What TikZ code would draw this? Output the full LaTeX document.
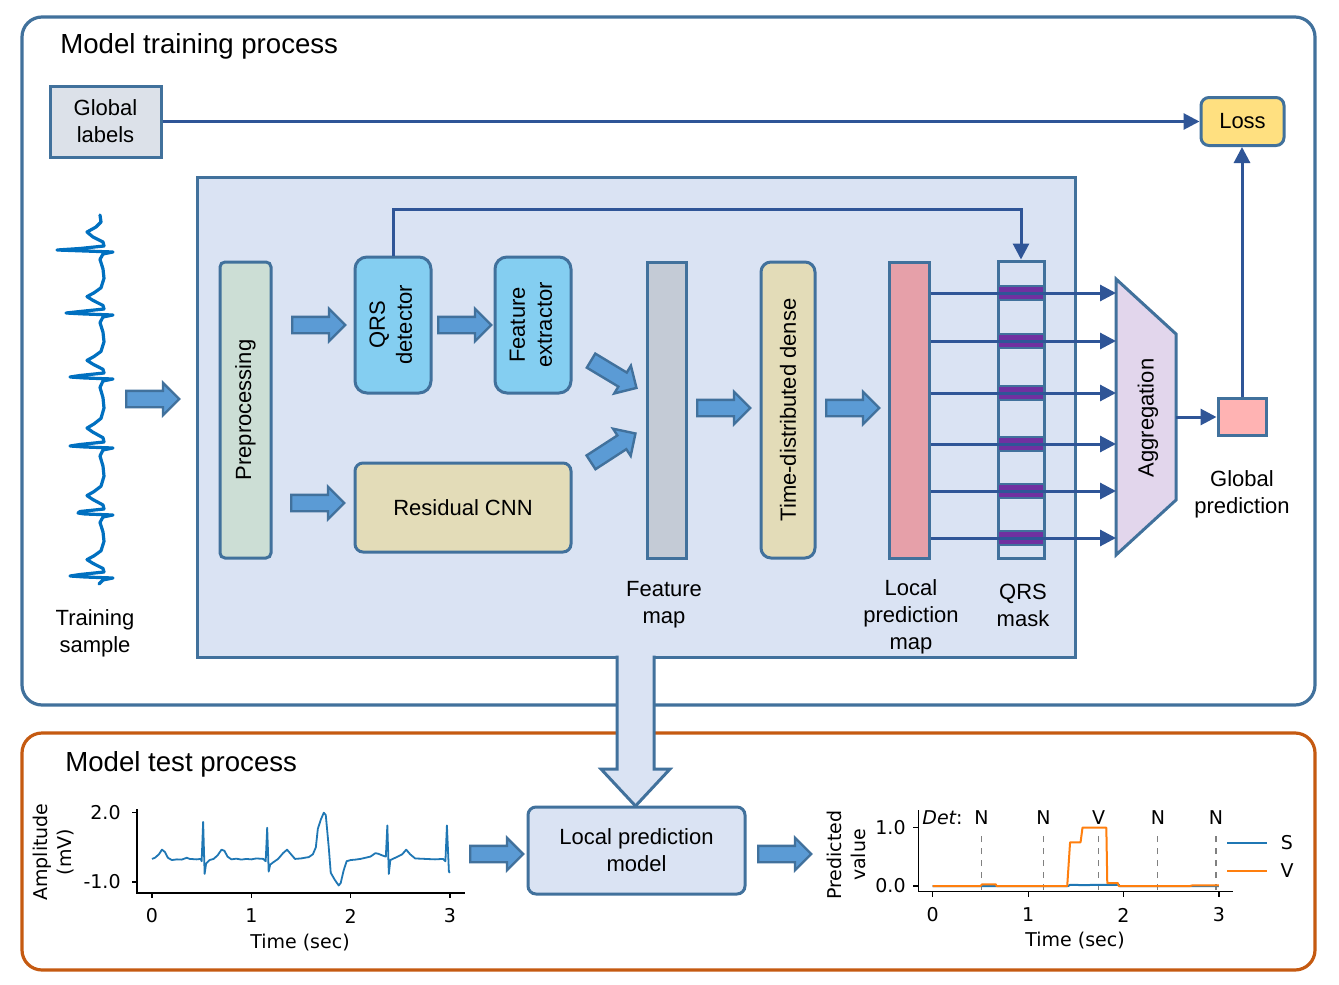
\documentclass[tikz,border=0pt]{standalone}
\usepackage{fontspec}
\setmainfont{Liberation Sans}
\newfontfamily\djv{DejaVu Sans}
\usetikzlibrary{arrows.meta,shapes.arrows,calc}
\definecolor{steel}{HTML}{41719C}
\definecolor{connc}{HTML}{2F5597}
\definecolor{bigfill}{HTML}{DAE3F3}
\definecolor{fatfill}{HTML}{5B9BD5}
\definecolor{orng}{HTML}{C55A11}
\definecolor{glfill}{HTML}{DCE1E9}
\definecolor{prepfill}{HTML}{CCDED5}
\definecolor{qrsfill}{HTML}{84CEF1}
\definecolor{tanfill}{HTML}{E3DCB8}
\definecolor{fmfill}{HTML}{C4CBD6}
\definecolor{pinkfill}{HTML}{E6A0A9}
\definecolor{aggfill}{HTML}{E2D6EC}
\definecolor{gpfill}{HTML}{FFB3B3}
\definecolor{lossfill}{HTML}{FFE080}
\definecolor{purp}{HTML}{7030A0}
\definecolor{ecgblue}{HTML}{0070C0}
\definecolor{mplA}{HTML}{1F77B4}
\definecolor{mplB}{HTML}{FF7F0E}
\begin{document}
\begin{tikzpicture}[x=0.5pt,y=-0.5pt,
  box/.style={draw=steel,line width=1.5pt,inner sep=0pt,font=\fontsize{11}{13.5}\selectfont,align=center},
  plain/.style={draw=steel,line width=1.5pt,inner sep=0pt},
  conn/.style={draw=connc,line width=1.5pt,-{Triangle[length=8pt,width=8pt]}},
  fat/.style={single arrow,draw=steel,fill=fatfill,line width=1.2pt,minimum height=26.5pt,minimum width=15pt,single arrow head extend=4pt,inner xsep=0pt,inner ysep=3.5pt,anchor=tail},
  lbl/.style={font=\fontsize{11}{13.5}\selectfont,align=center,inner sep=0pt},
  ttl/.style={font=\fontsize{13.8}{16}\selectfont,anchor=west,inner sep=0pt},
  ax/.style={line width=0.6pt,black},
  tk/.style={font=\djv\fontsize{9.5}{11.5}\selectfont,inner sep=0pt,align=center},
  ecg/.style={ecgblue,line width=1.6pt,line join=round,line cap=round},
]
\useasboundingbox (0,0) rectangle (1339,985);
\fill[white] (0,0) rectangle (1339,985);

% outer frames
\draw[steel,line width=1.6pt,rounded corners=10pt] (22,17) rectangle (1315,705);
\draw[orng,line width=1.6pt,rounded corners=10pt] (22,733) rectangle (1315,970);
\node[ttl] (t1) at (60,46) {Model training process};
\node[ttl] (t2) at (65,764) {Model test process};

% global labels and loss
\node[box,fill=glfill,minimum width=55.5pt,minimum height=35.5pt] (gl) at (105.5,121.5) {Global\\labels};
\node[box,fill=lossfill,rounded corners=4pt,minimum width=41.5pt,minimum height=24pt] (loss) at (1242.5,121.5) {Loss};
\draw[conn] (gl.east) -- (loss.west);

% big model box
\node[plain,fill=bigfill,minimum width=439pt,minimum height=240pt] (big) at (636,417) {};

\node[box,fill=prepfill,rounded corners=2.5pt,minimum width=25.5pt,minimum height=148pt] (prep) at (245.5,410) {\rotatebox{90}{Preprocessing}};
\node[box,fill=qrsfill,rounded corners=6pt,minimum width=38pt,minimum height=68pt] (qrs) at (393,325) {\rotatebox{90}{\begin{tabular}{@{}c@{}}QRS\\detector\end{tabular}}};
\node[box,fill=qrsfill,rounded corners=6pt,minimum width=38pt,minimum height=68pt] (feat) at (533,325) {\rotatebox{90}{\begin{tabular}{@{}c@{}}Feature\\extractor\end{tabular}}};
\node[box,fill=tanfill,rounded corners=4pt,minimum width=108pt,minimum height=44.5pt] (res) at (463,507.5) {Residual CNN};
\node[plain,fill=fmfill,minimum width=19.5pt,minimum height=148pt] (fmap) at (666.5,410) {};
\node[box,fill=tanfill,rounded corners=5pt,minimum width=27pt,minimum height=148pt] (tdd) at (788,410) {\rotatebox{90}{Time-distributed dense}};
\node[plain,fill=pinkfill,minimum width=20pt,minimum height=148pt] (lmap) at (909,410) {};
\node[plain,fill=bigfill,minimum width=23pt,minimum height=148.5pt] (mask) at (1021,409.5) {};
\foreach \y in {293,341,393,444,491,538}
  \draw[steel,line width=1.2pt,fill=purp] (998,\y-7) rectangle (1044,\y+7);

% labels
\node[lbl] (ts) at (95,633) {Training\\sample};
\node[lbl] (fml) at (664,605) {Feature\\map};
\node[lbl] (lml) at (911,617) {Local\\prediction\\map};
\node[lbl] (qml) at (1023,605) {QRS\\mask};
\node[lbl] (gpl) at (1242,494) {Global\\prediction};

% QRS detector to mask
\draw[conn] (qrs.north) -- ++(0,-46) -| (mask.north);

% aggregation
\draw[steel,line width=1.5pt,fill=aggfill,line join=miter] (1116,279) -- (1176,334) -- (1176,500) -- (1116,555) -- cycle;
\node[lbl,rotate=90] (agg) at (1148,418) {Aggregation};
\foreach \y [count=\i] in {293,341,393,444,491,538} {
  \coordinate (a\i) at (1116,\y);
  \draw[conn] (lmap.east |- a\i) -- (a\i);
}
\node[plain,fill=gpfill,minimum width=24pt,minimum height=18.5pt] (gpred) at (1242,416.5) {};
\coordinate (aggout) at (1176,417);
\draw[conn] (aggout) -- (aggout -| gpred.west);
\draw[conn] (gpred.north) -- (gpred.north |- loss.south);

% fat arrows (placed by their tails)
\node[fat] (fa1) at (125,399) {};
\node[fat] (fa2) at (291,325) {};
\node[fat] (fa3) at (437,325) {};
\node[fat] (fa4) at (290,503) {};
\node[fat,rotate=-31] (fa5) at (590,360) {};
\node[fat,rotate=33] (fa6) at (590,463) {};
\node[fat] (fa7) at (696,408) {};
\node[fat] (fa8) at (825,408) {};
\node[fat] (fa9) at (469,854) {};
\node[fat] (fa10) at (757,854) {};

% big down arrow
\fill[bigfill] (617,654) -- (617,769) -- (601,769) -- (635.5,806) -- (670,769) -- (654,769) -- (654,654) -- cycle;
\draw[steel,line width=1.5pt,line join=miter] (617,655.5) -- (617,769) -- (601,769) -- (635.5,806) -- (670,769) -- (654,769) -- (654,655.5);

\node[box,fill=bigfill,rounded corners=4pt,minimum width=108.5pt,minimum height=43.5pt] (lpm) at (636.5,850.5) {Local prediction\\model};

% training sample ECG (vertical)
\draw[ecg] (100,215) -- (101,222) -- (96,227) -- (87,232) -- (93,237) -- (103,242) -- (104,246);
\foreach \r/\tip/\p in {250/57/63,313/66/64,377/70/69,446/70/67,513/78/63} {
  \draw[ecg] (104,\r-4) -- (80,\r-1.5) -- (\tip,\r) -- (85,\r+1) -- (113,\r+2) -- (103,\r+4)
    -- (100,\r+0.15*\p) -- (103,\r+0.3*\p) -- (104,\r+0.45*\p) -- (101,\r+0.6*\p)
    -- (94,\r+0.68*\p) -- (87,\r+0.74*\p) -- (93,\r+0.8*\p) -- (103,\r+0.88*\p) -- (104,\r+\p-4);
}
\draw[ecg] (104,572) -- (80,574.5) -- (70,576) -- (85,577) -- (113,578) -- (103,580) -- (99,584);

% ---- left plot
\draw[ax] (137,809) -- (137,893) -- (465,893);
\foreach \x/\l [count=\i] in {152/0,251.3/1,350.6/2,449.9/3} {
  \draw[ax] (\x,893) -- (\x,898);
  \node[tk] (lx\i) at (\x,916) {\l};
}
\draw[ax] (132,812.7) -- (137,812.7);
\draw[ax] (132,882) -- (137,882);
\node[tk,anchor=east] (ly1) at (121,812.7) {2.0};
\node[tk,anchor=east] (ly2) at (121,882) {-1.0};
\node[tk] (lxl) at (300,943) {Time (sec)};
\node[tk,rotate=90,font=\djv\fontsize{9.5}{12}\selectfont] (lyl) at (54,852) {Amplitude\\(mV)};
\begin{scope}[shift={(152,858.9)},x=49.65pt,y=11.55pt]
\draw[mplA,line width=0.9pt,line join=round] plot coordinates {
(0,0) (0.03,0.05) (0.07,0.2) (0.1,0.4) (0.13,0.3) (0.16,0.05) (0.2,-0.05) (0.25,-0.02) (0.3,-0.03) (0.35,0.05) (0.38,0.0) (0.45,-0.02) (0.49,0.0) (0.5,-0.1) (0.515,1.6) (0.53,-0.65) (0.545,-0.2) (0.58,-0.05) (0.62,0.0) (0.66,0.15) (0.7,0.4) (0.73,0.35) (0.76,0.1) (0.8,-0.02) (0.85,0.01) (0.9,-0.03) (0.95,0.0) (1.0,-0.02) (1.05,0.02) (1.12,0.0) (1.145,-0.1) (1.16,1.35) (1.175,-0.55) (1.19,-0.25) (1.22,-0.15) (1.27,0.0) (1.32,0.25) (1.36,0.4) (1.4,0.2) (1.44,0.0) (1.5,0.02) (1.58,0.08) (1.62,0.2) (1.65,0.5) (1.67,1.3) (1.7,1.7) (1.73,2.0) (1.75,1.9) (1.78,0.5) (1.8,-0.6) (1.84,-0.9) (1.88,-1.15) (1.9,-1.05) (1.93,-0.5) (1.96,-0.1) (2.0,-0.05) (2.05,-0.03) (2.1,0.0) (2.15,0.05) (2.2,0.1) (2.25,0.25) (2.28,0.22) (2.32,0.15) (2.355,0.1) (2.37,1.45) (2.385,-0.65) (2.4,-0.05) (2.45,0.05) (2.52,0.2) (2.56,0.4) (2.6,0.2) (2.65,0.02) (2.75,0.0) (2.85,-0.02) (2.93,0.0) (2.955,-0.1) (2.97,1.45) (2.99,-0.55) (3.0,-0.6)};
\end{scope}

% ---- right plot
\draw[ax] (918.3,810) -- (918.3,891.7) -- (1233,891.7);
\foreach \x/\l [count=\i] in {932.7/0,1028.1/1,1123.5/2,1218.9/3} {
  \draw[ax] (\x,891.7) -- (\x,896.7);
  \node[tk] (rx\i) at (\x,915) {\l};
}
\draw[ax] (913.3,827.7) -- (918.3,827.7);
\draw[ax] (913.3,886) -- (918.3,886);
\node[tk,anchor=east] (ry1) at (906,827.7) {1.0};
\node[tk,anchor=east] (ry2) at (906,886) {0.0};
\node[tk] (rxl) at (1075,941) {Time (sec)};
\node[tk,rotate=90,font=\djv\fontsize{9.5}{12}\selectfont] (ryl) at (846,855) {Predicted\\value};
\node[tk,anchor=west] (det) at (922,818) {\itshape Det\upshape:};
\begin{scope}[shift={(932.7,886)},x=47.7pt,y=29.15pt]
\foreach \t/\l [count=\i] in {0.51/N,1.16/N,1.74/V,2.36/N,2.97/N} {
  \draw[gray,dashed,line width=0.6pt] (\t,-0.07) -- (\t,0.95);
  \node[tk] (dl\i) at (\t,1.166) {\l};
}
\draw[mplA,line width=1pt,line join=round] plot coordinates {(0,0) (1.42,0) (1.44,0.02) (1.6,0.015) (1.7,0.02) (1.95,0.02) (1.96,0) (3,0)};
\draw[mplB,line width=1pt,line join=round] plot coordinates {(0,0) (0.5,0) (0.52,0.03) (0.66,0.03) (0.67,0) (1.41,0) (1.44,0.75) (1.55,0.75) (1.57,1.0) (1.82,1.0) (1.83,0.05) (1.94,0.05) (1.95,0) (2.7,0) (2.72,0.01) (3,0.01)};
\end{scope}
\draw[mplA,line width=1pt] (1227,842.7) -- (1267,842.7);
\draw[mplB,line width=1pt] (1227,871) -- (1267,871);
\node[tk] (legS) at (1287,843) {S};
\node[tk] (legV) at (1287,871) {V};
\end{tikzpicture}
\end{document}
